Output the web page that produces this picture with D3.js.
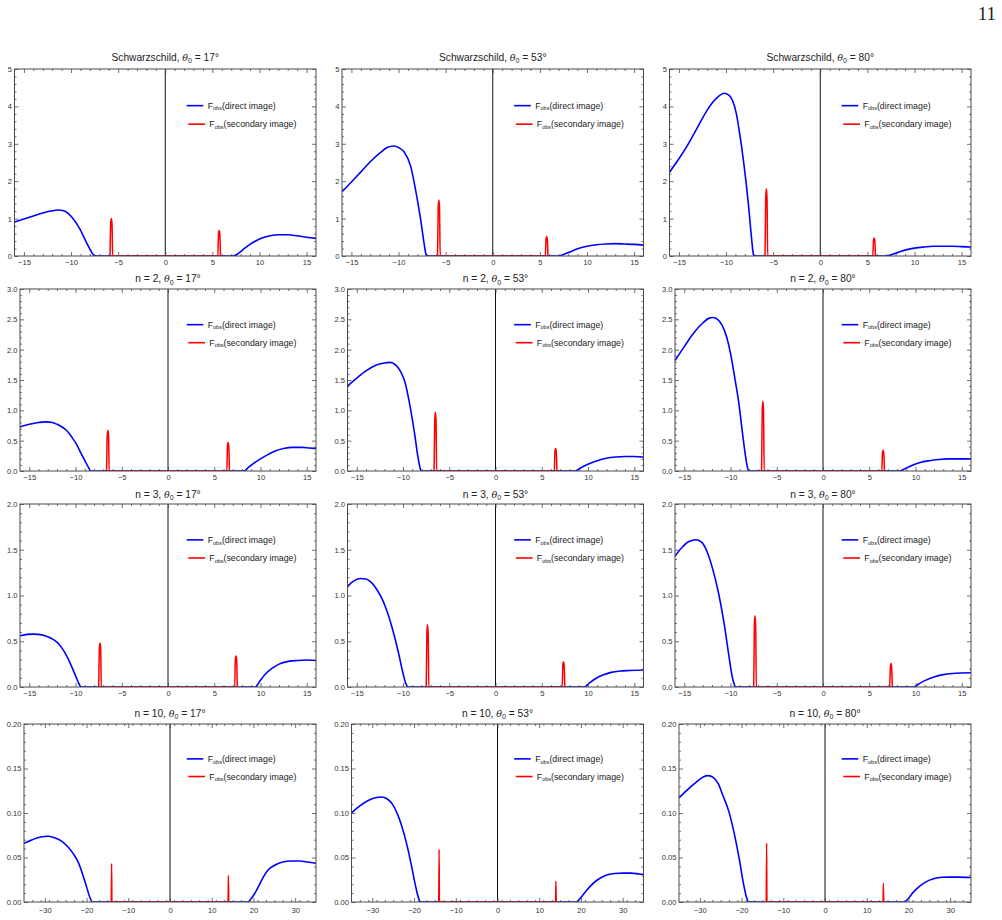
<!DOCTYPE html>
<html>
<head>
<meta charset="utf-8">
<script src="https://cdn.jsdelivr.net/npm/d3@7"></script>
<style>
  body { margin: 0; background: #fff; }
  svg { display: block; font-family: "Liberation Sans", Arial, sans-serif; }
</style>
</head>
<body>
<svg id="chart" width="1002" height="920"></svg>
<script>
// row / column labels
var rowNames = ["Schwarzschild", "n = 2", "n = 3", "n = 10"];
var angles = [17, 53, 80];

// axis ranges and major ticks per row
var xMax = [16, 16, 16, 35];
var yMax = [5, 3, 2, 0.2];
var xTicksNarrow = [-15, -10, -5, 0, 5, 10, 15];
var xTicksWide = [-30, -20, -10, 0, 10, 20, 30];
var yTicks1 = [0, 1, 2, 3, 4, 5];
var yTicks2 = [0, 0.5, 1.0, 1.5, 2.0, 2.5, 3.0];
var yTicks3 = [0, 0.5, 1.0, 1.5, 2.0];
var yTicks4 = [0, 0.05, 0.10, 0.15, 0.20];

// F_obs direct image  [x, F]
var directS17 = [[-16,0.91],[-15,0.99],[-14,1.07],[-13,1.15],[-12,1.21],[-11.3,1.23],[-10.8,1.21],[-10.4,1.16],[-9.8,1.0],[-9.1,0.74],[-8.4,0.38],[-7.9,0.14],[-7.6,0.03],[-7.3,0],[7.2,0],[7.6,0.04],[8.2,0.16],[8.7,0.26],[9.3,0.36],[9.8,0.43],[10.5,0.5],[11.3,0.55],[12,0.57],[13,0.57],[14,0.54],[15,0.5],[16,0.47]];
var directS53 = [[-16,1.72],[-15,1.98],[-14,2.25],[-13,2.52],[-12,2.75],[-11.2,2.9],[-10.5,2.94],[-10,2.9],[-9.4,2.78],[-8.7,2.39],[-8.2,1.78],[-7.7,1.05],[-7.3,0.36],[-7.1,0.06],[-7.0,0],[7.0,0],[7.5,0.04],[8.2,0.11],[9.1,0.2],[10,0.26],[11,0.3],[12,0.32],[13,0.33],[14,0.32],[15,0.31],[16,0.29]];
var directS80 = [[-16,2.24],[-15,2.6],[-14,3.0],[-13,3.45],[-12,3.9],[-11,4.22],[-10.2,4.35],[-9.7,4.3],[-9.3,4.15],[-8.9,3.8],[-8.6,3.35],[-8.1,2.45],[-7.6,1.32],[-7.3,0.5],[-7.1,0.05],[-7.0,0],[7.0,0],[7.5,0.03],[8.2,0.09],[9.2,0.17],[10,0.21],[11,0.24],[12,0.26],[13,0.26],[14,0.26],[15,0.25],[16,0.24]];
var direct217 = [[-16,0.73],[-15,0.77],[-14,0.8],[-13.3,0.81],[-12.5,0.8],[-12,0.77],[-11.5,0.73],[-10.9,0.66],[-10.4,0.56],[-9.85,0.43],[-9.4,0.29],[-8.95,0.16],[-8.6,0.06],[-8.35,0],[8.2,0],[8.7,0.06],[9.3,0.13],[10,0.2],[10.8,0.27],[11.6,0.33],[12.5,0.37],[13.5,0.39],[14.5,0.39],[15.3,0.38],[16,0.37]];
var direct253 = [[-16,1.4],[-15,1.53],[-14,1.65],[-13,1.74],[-12,1.78],[-11.4,1.79],[-10.8,1.75],[-10.3,1.65],[-9.8,1.47],[-9.3,1.12],[-8.75,0.62],[-8.35,0.2],[-8.1,0.02],[-8.0,0],[8.6,0],[9.2,0.05],[10,0.11],[11,0.17],[12,0.21],[13,0.23],[14,0.24],[15,0.24],[16,0.23]];
var direct280 = [[-16,1.82],[-15,2.05],[-14,2.27],[-13,2.44],[-12.3,2.52],[-11.9,2.53],[-11.4,2.5],[-10.9,2.4],[-10.4,2.2],[-10,1.94],[-9.5,1.5],[-9.1,1.12],[-8.7,0.62],[-8.35,0.22],[-8.1,0.02],[-8.0,0],[8.3,0],[8.9,0.04],[9.6,0.09],[10.5,0.14],[11.5,0.17],[12.5,0.19],[13.5,0.2],[14.5,0.2],[16,0.2]];
var direct317 = [[-16,0.56],[-15.2,0.575],[-14.6,0.578],[-14,0.575],[-13.3,0.56],[-12.6,0.53],[-12,0.49],[-11.5,0.43],[-10.9,0.33],[-10.4,0.22],[-9.9,0.1],[-9.6,0.03],[-9.4,0],[9.45,0],[9.9,0.06],[10.5,0.14],[11.2,0.2],[12,0.25],[13,0.28],[14,0.29],[15,0.295],[16,0.29]];
var direct353 = [[-16,1.1],[-15.3,1.16],[-14.6,1.185],[-14,1.18],[-13.4,1.14],[-12.8,1.06],[-12.2,0.95],[-11.7,0.82],[-11.1,0.62],[-10.5,0.38],[-10.0,0.15],[-9.7,0.04],[-9.45,0],[9.6,0],[10.1,0.04],[10.8,0.09],[11.6,0.13],[12.5,0.16],[13.5,0.175],[14.5,0.18],[16,0.185]];
var direct380 = [[-16,1.43],[-15.2,1.53],[-14.5,1.59],[-13.7,1.61],[-13.1,1.58],[-12.5,1.47],[-11.9,1.28],[-11.3,1.03],[-10.7,0.7],[-10.2,0.36],[-9.85,0.13],[-9.6,0.03],[-9.45,0],[9.85,0],[10.3,0.03],[11,0.07],[12,0.11],[13,0.135],[14,0.148],[15,0.153],[16,0.155]];
var direct1017 = [[-35,0.066],[-33,0.07],[-31,0.073],[-29.2,0.0738],[-27.5,0.072],[-26,0.0685],[-24.5,0.062],[-23,0.053],[-21.9,0.0437],[-20.8,0.029],[-20,0.017],[-19.2,0.005],[-18.6,0],[18.6,0],[19.5,0.004],[20.5,0.011],[21.5,0.02],[22.5,0.029],[23.5,0.036],[25,0.041],[27,0.045],[29,0.046],[31,0.046],[33,0.045],[35,0.0435]];
var direct1053 = [[-35,0.1],[-33,0.108],[-31,0.114],[-29,0.1175],[-27.8,0.118],[-26.5,0.116],[-25.2,0.11],[-24,0.099],[-23,0.086],[-21.6,0.062],[-20.5,0.038],[-19.6,0.017],[-18.9,0.004],[-18.4,0],[18.9,0],[19.8,0.004],[21,0.011],[22.5,0.019],[24,0.025],[26,0.03],[28,0.032],[30,0.0325],[32,0.0325],[34,0.0315],[35,0.031]];
var direct1080 = [[-35,0.117],[-33,0.126],[-31,0.134],[-29.2,0.1405],[-28,0.142],[-26.8,0.14],[-25.6,0.133],[-24.5,0.12],[-23,0.101],[-21.8,0.078],[-20.5,0.047],[-19.6,0.022],[-18.8,0.005],[-18.3,0],[19,0],[20,0.004],[21,0.01],[22.5,0.017],[24,0.022],[26,0.026],[28,0.0278],[30,0.028],[32,0.028],[35,0.0275]];

// F_obs secondary image  [x, F]
var secondaryS17 = [[-5.86,0],[-5.79,0.86],[-5.72,1.0],[-5.65,0.86],[-5.58,0],[5.58,0],[5.65,0.59],[5.72,0.68],[5.79,0.59],[5.86,0]];
var secondaryS53 = [[-5.86,0],[-5.79,1.3],[-5.72,1.5],[-5.65,1.3],[-5.58,0],[5.58,0],[5.65,0.45],[5.72,0.52],[5.79,0.45],[5.86,0]];
var secondaryS80 = [[-5.86,0],[-5.79,1.56],[-5.72,1.8],[-5.65,1.56],[-5.58,0],[5.58,0],[5.65,0.42],[5.72,0.48],[5.79,0.42],[5.86,0]];
var secondary217 = [[-6.64,0],[-6.57,0.58],[-6.5,0.67],[-6.43,0.58],[-6.36,0],[6.36,0],[6.43,0.41],[6.5,0.47],[6.57,0.41],[6.64,0]];
var secondary253 = [[-6.64,0],[-6.57,0.84],[-6.5,0.97],[-6.43,0.84],[-6.36,0],[6.36,0],[6.43,0.32],[6.5,0.37],[6.57,0.32],[6.64,0]];
var secondary280 = [[-6.64,0],[-6.57,1.0],[-6.5,1.15],[-6.43,1.0],[-6.36,0],[6.36,0],[6.43,0.3],[6.5,0.34],[6.57,0.3],[6.64,0]];
var secondary317 = [[-7.49,0],[-7.42,0.42],[-7.35,0.48],[-7.28,0.42],[-7.21,0],[7.21,0],[7.28,0.3],[7.35,0.34],[7.42,0.3],[7.49,0]];
var secondary353 = [[-7.49,0],[-7.42,0.59],[-7.35,0.68],[-7.28,0.59],[-7.21,0],[7.21,0],[7.28,0.24],[7.35,0.275],[7.42,0.24],[7.49,0]];
var secondary380 = [[-7.49,0],[-7.42,0.68],[-7.35,0.78],[-7.28,0.68],[-7.21,0],[7.21,0],[7.28,0.22],[7.35,0.257],[7.42,0.22],[7.49,0]];
var secondary1017 = [[-14.08,0],[-14,0.043],[-13.92,0],[13.92,0],[14,0.03],[14.08,0]];
var secondary1053 = [[-14.08,0],[-14,0.059],[-13.92,0],[13.92,0],[14,0.0234],[14.08,0]];
var secondary1080 = [[-14.08,0],[-14,0.066],[-13.92,0],[13.92,0],[14,0.021],[14.08,0]];

var directRows = [[directS17, directS53, directS80], [direct217, direct253, direct280], [direct317, direct353, direct380], [direct1017, direct1053, direct1080]];
var secondaryRows = [[secondaryS17, secondaryS53, secondaryS80], [secondary217, secondary253, secondary280], [secondary317, secondary353, secondary380], [secondary1017, secondary1053, secondary1080]];
var yTickRows = [yTicks1, yTicks2, yTicks3, yTicks4];
var yMinorStep = [0.2, 0.1, 0.1, 0.01];
var xMinorStep = [1, 1, 1, 2];
var yFormats = [d3.format("d"), d3.format(".1f"), d3.format(".1f"), d3.format(".2f")];

// layout (pixels)
var colBase = [0, 327.5, 655];
var frameLeft = [14.5, 20, 20, 24];
var frameRight = 316;
var frameTop = [69, 289, 504, 724];
var frameBottom = [256, 471, 687, 902];
var titleBase = [60.5, 282, 497.5, 716.5];
var xLabelPad = [3.2, 3.2, 3.2, 5.5];

var svg = d3.select("#chart");
var frameColor = "#4a4a4a";

svg.append("text")
    .attr("x", 996).attr("y", 20)
    .attr("text-anchor", "end")
    .attr("font-family", "'Liberation Serif', 'DejaVu Serif', serif")
    .attr("font-size", 19)
    .attr("fill", "#222")
    .text("11");

function lineTicks(sel) {
    sel.select(".domain").remove();
    sel.selectAll(".tick line").attr("stroke", frameColor).attr("stroke-width", 0.8);
}

rowNames.forEach(function(rowName, r) {
    angles.forEach(function(angle, c) {
        var left = colBase[c] + frameLeft[r];
        var right = colBase[c] + frameRight;
        var w = right - left;
        var h = frameBottom[r] - frameTop[r];

        var x = d3.scaleLinear().domain([-xMax[r], xMax[r]]).range([0, w]);
        var y = d3.scaleLinear().domain([0, yMax[r]]).range([h, 0]);

        var g = svg.append("g").attr("transform", "translate(" + left + "," + frameTop[r] + ")");

        // title
        var title = svg.append("text")
            .attr("x", left + w / 2).attr("y", titleBase[r])
            .attr("text-anchor", "middle")
            .attr("font-size", 10.2)
            .attr("fill", "#222");
        title.append("tspan").text(rowName + ", ");
        title.append("tspan").attr("font-style", "italic").attr("font-family", "'DejaVu Serif', serif").attr("font-size", 9.5).text("θ");
        title.append("tspan").attr("font-size", 7).attr("dy", 2.5).text("0");
        title.append("tspan").attr("dy", -2.5).text(" = " + angle + "°");

        var xMajor = r === 3 ? xTicksWide : xTicksNarrow;
        var xMinor = d3.range(-xMax[r] + xMinorStep[r], xMax[r], xMinorStep[r])
            .filter(function(v) { return xMajor.indexOf(Math.round(v * 100) / 100) < 0; });
        var yMajor = yTickRows[r];
        var yMinor = d3.range(0, yMax[r] + 1e-9, yMinorStep[r])
            .filter(function(v) { return !yMajor.some(function(m) { return Math.abs(m - v) < 1e-9; }); });

        // clip
        var clipId = "clip" + r + c;
        g.append("clipPath").attr("id", clipId)
            .append("rect").attr("width", w).attr("height", h);

        var line = d3.line()
            .x(function(d) { return x(d[0]); })
            .y(function(d) { return y(d[1]); })
            .curve(d3.curveMonotoneX);

        var plot = g.append("g").attr("clip-path", "url(#" + clipId + ")");

        // vertical axis at x = 0
        plot.append("line")
            .attr("x1", x(0)).attr("x2", x(0))
            .attr("y1", 0).attr("y2", h)
            .attr("stroke", "#111").attr("stroke-width", 1);

        plot.append("path")
            .datum(directRows[r][c])
            .attr("d", line)
            .attr("fill", "none")
            .attr("stroke", "#0000ff")
            .attr("stroke-width", 1.6);

        plot.append("path")
            .datum(secondaryRows[r][c])
            .attr("d", line)
            .attr("fill", "none")
            .attr("stroke", "#ff0000")
            .attr("stroke-width", 1.5);

        // frame ticks: bottom with labels
        var bottom = g.append("g").attr("transform", "translate(0," + h + ")")
            .call(d3.axisBottom(x).tickValues(xMajor).tickSize(-4).tickPadding(xLabelPad[r]));
        bottom.selectAll("text").attr("fill", "#333").attr("font-size", 7.6).attr("font-family", "'Liberation Sans', Arial, sans-serif");
        lineTicks(bottom);
        lineTicks(g.append("g").attr("transform", "translate(0," + h + ")")
            .call(d3.axisBottom(x).tickValues(xMinor).tickSize(-2).tickFormat("")));
        lineTicks(g.append("g").call(d3.axisTop(x).tickValues(xMajor).tickSize(-4).tickFormat("")));
        lineTicks(g.append("g").call(d3.axisTop(x).tickValues(xMinor).tickSize(-2).tickFormat("")));

        var leftAx = g.append("g")
            .call(d3.axisLeft(y).tickValues(yMajor).tickSize(-4).tickPadding(2.5).tickFormat(yFormats[r]));
        leftAx.selectAll("text").attr("fill", "#333").attr("font-size", 7.6).attr("font-family", "'Liberation Sans', Arial, sans-serif");
        lineTicks(leftAx);
        lineTicks(g.append("g").call(d3.axisLeft(y).tickValues(yMinor).tickSize(-2).tickFormat("")));
        lineTicks(g.append("g").attr("transform", "translate(" + w + ",0)")
            .call(d3.axisRight(y).tickValues(yMajor).tickSize(-4).tickFormat("")));
        lineTicks(g.append("g").attr("transform", "translate(" + w + ",0)")
            .call(d3.axisRight(y).tickValues(yMinor).tickSize(-2).tickFormat("")));

        g.append("rect")
            .attr("width", w).attr("height", h)
            .attr("fill", "none")
            .attr("stroke", frameColor).attr("stroke-width", 1);

        // legend
        var legend = [
            { color: "#0000ff", label: "(direct image)", x0: w - 129.3, x1: w - 112.7, tx: w - 108.3, ly: 0.196 * h },
            { color: "#ff0000", label: "(secondary image)", x0: w - 127.7, x1: w - 111, tx: w - 106.7, ly: 0.295 * h }
        ];
        legend.forEach(function(item) {
            g.append("line")
                .attr("x1", item.x0).attr("x2", item.x1)
                .attr("y1", item.ly).attr("y2", item.ly)
                .attr("stroke", item.color).attr("stroke-width", 1.6);
            var t = g.append("text")
                .attr("x", item.tx).attr("y", item.ly + 3)
                .attr("font-size", 8.8).attr("fill", "#222");
            t.append("tspan").text("F");
            t.append("tspan").attr("font-size", 5.5).attr("dy", 1.8).text("obs");
            t.append("tspan").attr("dy", -1.8).text(item.label);
        });
    });
});
</script>
</body>
</html>
